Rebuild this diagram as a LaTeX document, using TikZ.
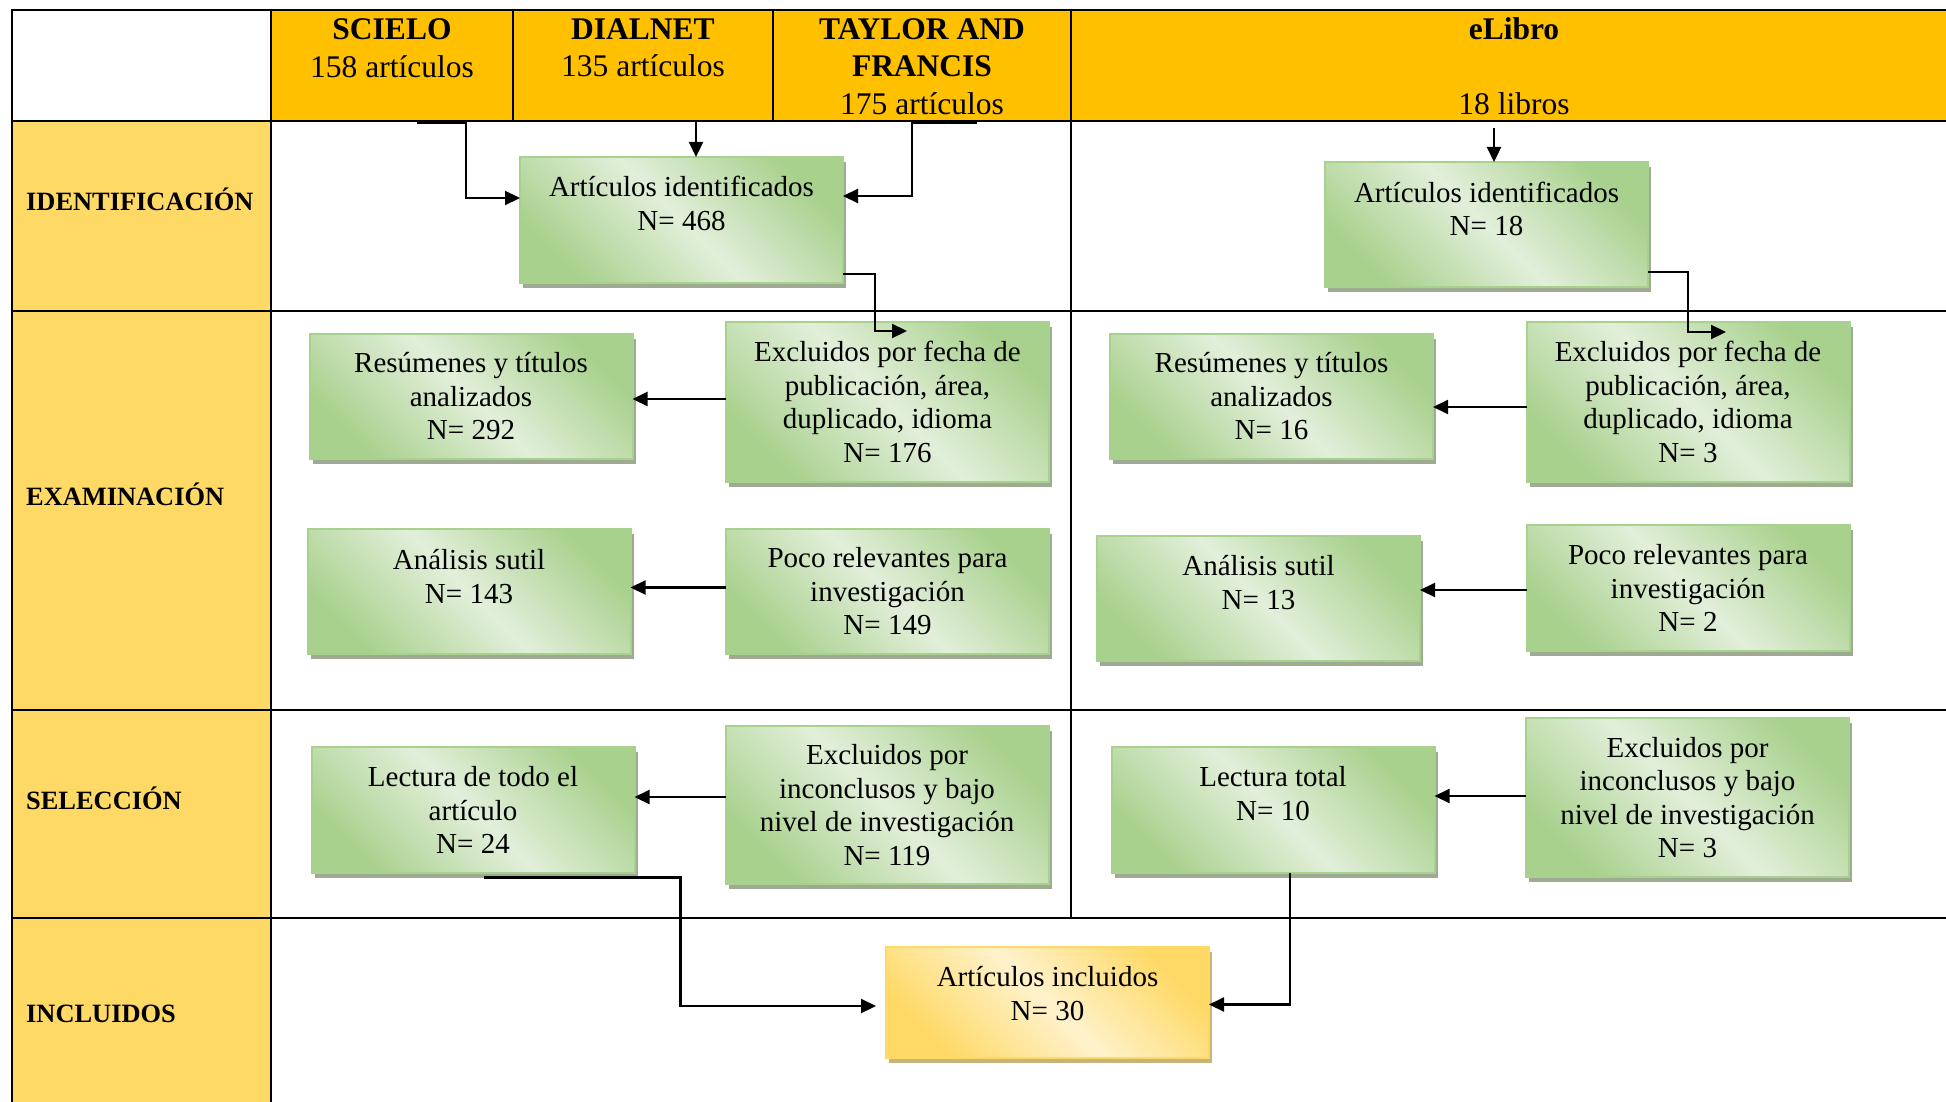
\documentclass[tikz,border=0pt]{standalone}
\usepackage{fontspec}
\setmainfont{Liberation Serif}
\usetikzlibrary{arrows.meta,calc,shadows}

\definecolor{hdr}{RGB}{255,192,0}
\definecolor{sidecol}{RGB}{255,217,102}
\definecolor{gdark}{RGB}{169,209,142}
\definecolor{glight}{RGB}{226,239,218}
\definecolor{gshadow}{RGB}{158,170,145}
\definecolor{ydark}{RGB}{255,217,102}
\definecolor{ylight}{RGB}{255,242,204}
\definecolor{yshadow}{RGB}{198,180,124}

\newcommand\bodysize{\fontsize{29}{33.5}\selectfont}
\newcommand\headsize{\fontsize{31.5}{37.5}\selectfont}
\newcommand\sidesize{\fontsize{26.4}{31}\selectfont}

\tikzset{
  cell/.style={inner sep=0, outer sep=0, anchor=north west},
  grid/.style={line width=2pt, black, line cap=rect},
  htext/.style={font=\headsize, align=center, inner sep=0},
  sidetext/.style={font=\sidesize\bfseries, anchor=base west, inner sep=0},
  btext/.style={font=\bodysize, align=center, inner sep=0},
  flowbox/.style={line width=2pt, font=\bodysize, align=center, inner sep=0,
    outer sep=0, minimum width=323, minimum height=125},
  % diagonal gradient: dark corners top right and bottom left, light band between
  gbox/.style={flowbox, draw=gdark,
    general shadow={fill=gshadow, shadow xshift=3pt, shadow yshift=-5pt},
    left color=gdark, right color=gdark, middle color=glight, shading angle=-45},
  ybox/.style={flowbox, draw=ydark,
    general shadow={fill=yshadow, shadow xshift=3pt, shadow yshift=-5pt},
    left color=ydark, right color=ydark, middle color=ylight, shading angle=-45},
  conn/.style={line width=2.2pt, black, -{Triangle[length=15pt,width=14pt]}},
}

\begin{document}
\begin{tikzpicture}[x=1pt, y=-1pt]
\useasboundingbox (0,0) rectangle (1946,1102);
\fill[white] (0,0) rectangle (1946,1102);

% header row
\node[cell, fill=white, minimum width=259, minimum height=111] (corner) at (12,10) {};
\node[cell, fill=hdr, minimum width=242, minimum height=111] (scielo) at (271,10) {};
\node[cell, fill=hdr, minimum width=260, minimum height=111] (dialnet) at (513,10) {};
\node[cell, fill=hdr, minimum width=298, minimum height=111] (taylor) at (773,10) {};
\node[cell, fill=hdr, minimum width=875, minimum height=111] (elibro) at (1071,10) {};

% stage column
\node[cell, fill=sidecol, minimum width=259, minimum height=190] (identc) at (12,121) {};
\node[cell, fill=sidecol, minimum width=259, minimum height=399] (examc) at (12,311) {};
\node[cell, fill=sidecol, minimum width=259, minimum height=208] (selecc) at (12,710) {};
\node[cell, fill=sidecol, minimum width=259, minimum height=184] (inclc) at (12,918) {};

% table rules
\draw[grid] (12,10) -- (1946,10);
\draw[grid] (12,121) -- (1946,121);
\draw[grid] (12,311) -- (1946,311);
\draw[grid] (12,710) -- (1946,710);
\draw[grid] (12,918) -- (1946,918);
\draw[grid] (12,10) -- (12,1102);
\draw[grid] (271,10) -- (271,1102);
\draw[grid] (513,10) -- (513,121);
\draw[grid] (773,10) -- (773,121);
\draw[grid] (1071,10) -- (1071,918);

% header texts
\node[htext] (tscielo) at (392,48) {\textbf{SCIELO}\\158 artículos};
\node[htext] (tdialnet) at (643,48) {\textbf{DIALNET}\\135 artículos};
\node[htext] (ttaylor) at (922,66.5) {\textbf{TAYLOR AND}\\\textbf{FRANCIS}\\175 artículos};
\node[htext] (telibro) at (1514,66) {\textbf{eLibro}\\[37.5pt]18 libros};

% stage labels
\node[sidetext] (lident) at (26,211) {IDENTIFICACIÓN};
\node[sidetext] (lexam) at (26,505) {EXAMINACIÓN};
\node[sidetext] (lselec) at (26,809) {SELECCIÓN};
\node[sidetext] (lincl) at (26,1022.7) {INCLUIDOS};

% flow boxes
\node[gbox, minimum height=126,
  label={[btext,name=a1t,yshift=16.5pt]center:Artículos identificados\\N= 468}] (a1) at (681.5,220) {};
\node[gbox,
  label={[btext,name=b1t,yshift=15.5pt]center:Artículos identificados\\N= 18}] (b1) at (1486.5,224.5) {};
\node[gbox] (r1) at (471,396.5) {Resúmenes y títulos\\analizados\\N= 292};
\node[gbox, minimum height=160] (e1) at (887.5,402) {Excluidos por fecha de\\publicación, área,\\duplicado, idioma\\N= 176};
\node[gbox,
  label={[btext,name=a2t,yshift=15pt]center:Análisis sutil\\N= 143}] (a2) at (469,591.5) {};
\node[gbox] (p1) at (887.5,591.5) {Poco relevantes para\\investigación\\N= 149};
\node[gbox] (r2) at (1271.5,396.5) {Resúmenes y títulos\\analizados\\N= 16};
\node[gbox, minimum height=160] (e2) at (1688,402) {Excluidos por fecha de\\publicación, área,\\duplicado, idioma\\N= 3};
\node[gbox,
  label={[btext,name=a3t,yshift=16pt]center:Análisis sutil\\N= 13}] (a3) at (1258.5,598.5) {};
\node[gbox, minimum height=126] (p2) at (1688,588) {Poco relevantes para\\investigación\\N= 2};
\node[gbox, minimum height=126] (l1) at (473,810) {Lectura de todo el\\artículo\\N= 24};
\node[gbox, minimum height=158] (x1) at (887,805) {Excluidos por\\inconclusos y bajo\\nivel de investigación\\N= 119};
\node[gbox, minimum height=126,
  label={[btext,name=l2t,yshift=16.5pt]center:Lectura total\\N= 10}] (l2) at (1273,810) {};
\node[gbox, minimum height=159] (x2) at (1687.5,797.5) {Excluidos por\\inconclusos y bajo\\nivel de investigación\\N= 3};
\node[ybox, minimum height=111,
  label={[btext,name=inct,yshift=9pt]center:Artículos incluidos\\N= 30}] (inc) at (1047.5,1002.5) {};

% connectors
\draw[conn] ([shift={(25,1.5)}]scielo.south) -- ++(49,0) |- ([yshift=22pt]a1.west);
\coordinate (a1in) at ([xshift=14.5pt]a1.north);
\draw[conn] (dialnet.south -| a1in) -- (a1in);
\draw[conn] ([shift={(55,1.5)}]taylor.south) -- ++(-65,0) |- ([yshift=24pt]a1.east);
\coordinate (b1in) at ([xshift=7.5pt]b1.north);
\draw[conn] ($(elibro.south -| b1in)+(0,7)$) -- (b1in);

\draw[conn] ([yshift=-54pt]a1.east) -| ([shift={(-12.5,9)}]e1.north) -- ([shift={(19.5,9)}]e1.north);
\draw[conn] ([yshift=-47.5pt]b1.east) -| ([yshift=-10pt]e2.north) -- ([shift={(38,10)}]e2.north);

\draw[conn] ($(e1.west)+(0,-3)$) -- ($(e1.west -| r1.east)+(0,-3)$);
\draw[conn] ($(p1.west)+(0,-4)$) -- ($(p1.west -| a2.east)+(0,-4)$);
\draw[conn] ($(e2.west)+(0,5)$) -- ($(e2.west -| r2.east)+(0,5)$);
\draw[conn] ($(p2.west)+(0,2)$) -- ($(p2.west -| a3.east)+(0,2)$);
\draw[conn] ($(x1.west)+(0,-8)$) -- ($(x1.west -| l1.east)+(0,-8)$);
\draw[conn] ($(x2.west)+(0,-1.5)$) -- ($(x2.west -| l2.east)+(0,-1.5)$);

\draw[conn] ([shift={(11,4.5)}]l1.south) -- ++(196.5,0) |- ($(inc.west)+(-10,3.5)$);
\draw[conn] ([xshift=17pt]l2.south) |- ($(inc.east)+(0,2)$);
\end{tikzpicture}
\end{document}
